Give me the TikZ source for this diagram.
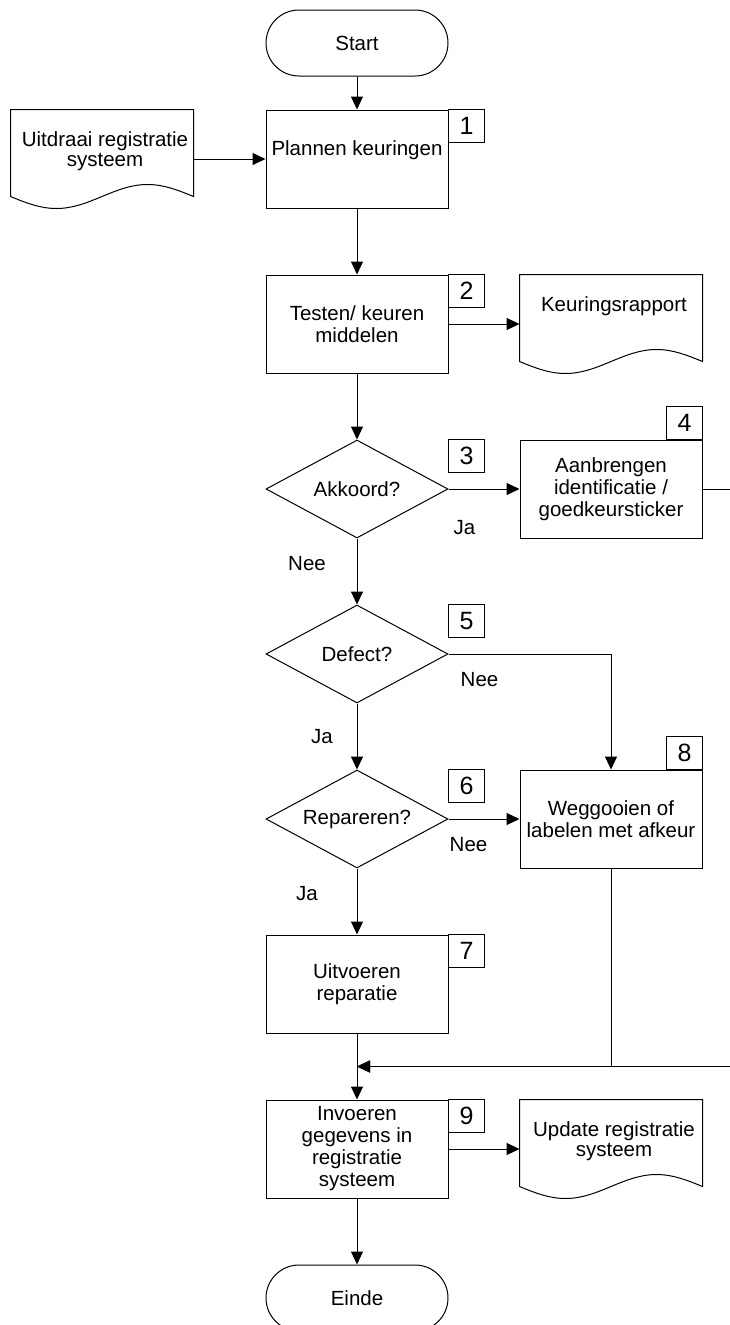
\documentclass[tikz,border=0pt]{standalone}
\usepackage{fontspec}
\setmainfont{Liberation Sans}
\usepackage{tikz}
\usetikzlibrary{arrows.meta}
\usetikzlibrary{calc,positioning}
\usetikzlibrary{shapes.geometric}

% outline of a document symbol round an empty node
\newcommand{\docoutline}[1]{%
  \draw (#1.north west) -- (#1.north east) -- ($(#1.south east)+(0,12)$)
    sin ($(#1.south)+(45.5,24)$) cos ($(#1.south)+(0,12)$)
    sin ($(#1.south)+(-45.5,0)$) cos ($(#1.south west)+(0,12)$) -- cycle;}

\begin{document}
\begin{tikzpicture}[x=1pt, y=1pt, line width=1pt,
    font=\fontsize{20.5}{22}\selectfont,
    process/.style={rectangle, draw=black, minimum width=182pt, minimum height=98pt,
    inner sep=0pt, align=center},
    decision/.style={diamond, draw=black, aspect=1.86, minimum width=182pt,
    minimum height=98pt, inner sep=0pt, align=center},
    terminal/.style={rectangle, draw=black, rounded corners=33pt, minimum width=182pt,
    minimum height=66pt, inner sep=0pt},
    docshape/.style={rectangle, minimum width=182pt, minimum height=98pt, inner sep=0pt},
    doctext/.style={anchor=north, yshift=-22pt, xshift=3pt, inner sep=0pt, align=center,
    font=\fontsize{20.5}{19.5}\selectfont},
    stepnr/.style={rectangle, draw=black, minimum width=36pt, minimum height=33pt,
    inner sep=0pt, outer sep=0pt, font=\fontsize{25}{25}\selectfont},
    answer/.style={inner sep=0pt},
    flow/.style={-{Triangle[length=13pt, width=12pt]}},
    node distance=66pt and 71pt]
    \useasboundingbox (0,0) rectangle (730,-1325);
    \clip (0,0) rectangle (730,-1325);

    \node (start) [terminal] at (357,-43) {Start};
    \node (plannen) [process, below=33pt of start] {Plannen keuringen\\\mbox{}};
    \node (uitdraai) [docshape, left=72pt of plannen] {};
    \node (testen) [process, below=of plannen] {Testen/ keuren\\middelen};
    \node (rapport) [docshape, right=of testen] {};
    \node (akkoord) [decision, below=of testen] {Akkoord?};
    \node (aanbrengen) [process, right=of akkoord] {Aanbrengen\\identificatie /\\goedkeursticker};
    \node (defect) [decision, below=of akkoord] {Defect?};
    \node (repareren) [decision, below=of defect] {Repareren?};
    \node (weggooien) [process, right=of repareren] {Weggooien of\\labelen met afkeur};
    \node (uitvoeren) [process, below=of repareren] {Uitvoeren\\reparatie};
    \node (invoeren) [process, below=of uitvoeren] {Invoeren\\gegevens in\\registratie\\systeem};
    \node (update) [docshape, right=of invoeren] {};
    \node (einde) [terminal, below=of invoeren] {Einde};

    \docoutline{uitdraai}
    \docoutline{rapport}
    \docoutline{update}
    \node (uitdraaitxt) [doctext] at (uitdraai.north) {Uitdraai registratie\\systeem};
    \node (rapporttxt) [doctext] at (rapport.north) {Keuringsrapport};
    \node (updatetxt) [doctext] at (update.north) {Update registratie\\systeem};

    \node (nr1) [stepnr, anchor=north west] at (plannen.north east) {1};
    \node (nr2) [stepnr, anchor=north west] at (testen.north east) {2};
    \node (nr3) [stepnr, anchor=north west] at (akkoord.east |- akkoord.north) {3};
    \node (nr4) [stepnr, anchor=south east] at (aanbrengen.north east) {4};
    \node (nr5) [stepnr, anchor=north west] at (defect.east |- defect.north) {5};
    \node (nr6) [stepnr, anchor=north west] at (repareren.east |- repareren.north) {6};
    \node (nr7) [stepnr, anchor=north west] at (uitvoeren.north east) {7};
    \node (nr8) [stepnr, anchor=south east] at (weggooien.north east) {8};
    \node (nr9) [stepnr, anchor=north west] at (invoeren.north east) {9};

    \node (ja1) [answer] at ($(akkoord.east)+(16,-39)$) {Ja};
    \node (nee1) [answer] at ($(akkoord.south)+(-50,-25)$) {Nee};
    \node (nee2) [answer] at ($(defect.east)+(31,-26)$) {Nee};
    \node (ja2) [answer] at ($(defect.south)+(-35,-33)$) {Ja};
    \node (nee3) [answer] at ($(repareren.east)+(20,-26)$) {Nee};
    \node (ja3) [answer] at ($(repareren.south)+(-50,-25)$) {Ja};

    \coordinate (samen) at ($(uitvoeren.south)!0.5!(invoeren.north)$);

    \draw[flow] (start) -- (plannen);
    \draw[flow] (uitdraai) -- (plannen);
    \draw[flow] (plannen) -- (testen);
    \draw[flow] (testen) -- (rapport);
    \draw[flow] (testen) -- (akkoord);
    \draw[flow] (akkoord) -- (aanbrengen);
    \draw[flow] (akkoord) -- (defect);
    \draw[flow] (defect) -- (repareren);
    \draw[flow] (defect) -| (weggooien);
    \draw[flow] (repareren) -- (weggooien);
    \draw[flow] (repareren) -- (uitvoeren);
    \draw[flow] (uitvoeren) -- (invoeren);
    \draw[flow] (weggooien) |- (samen);
    \draw[flow] (aanbrengen.east) -- ++(45,0) |- (samen);
    \draw[flow] (invoeren) -- (update);
    \draw[flow] (invoeren) -- (einde);
\end{tikzpicture}
\end{document}
